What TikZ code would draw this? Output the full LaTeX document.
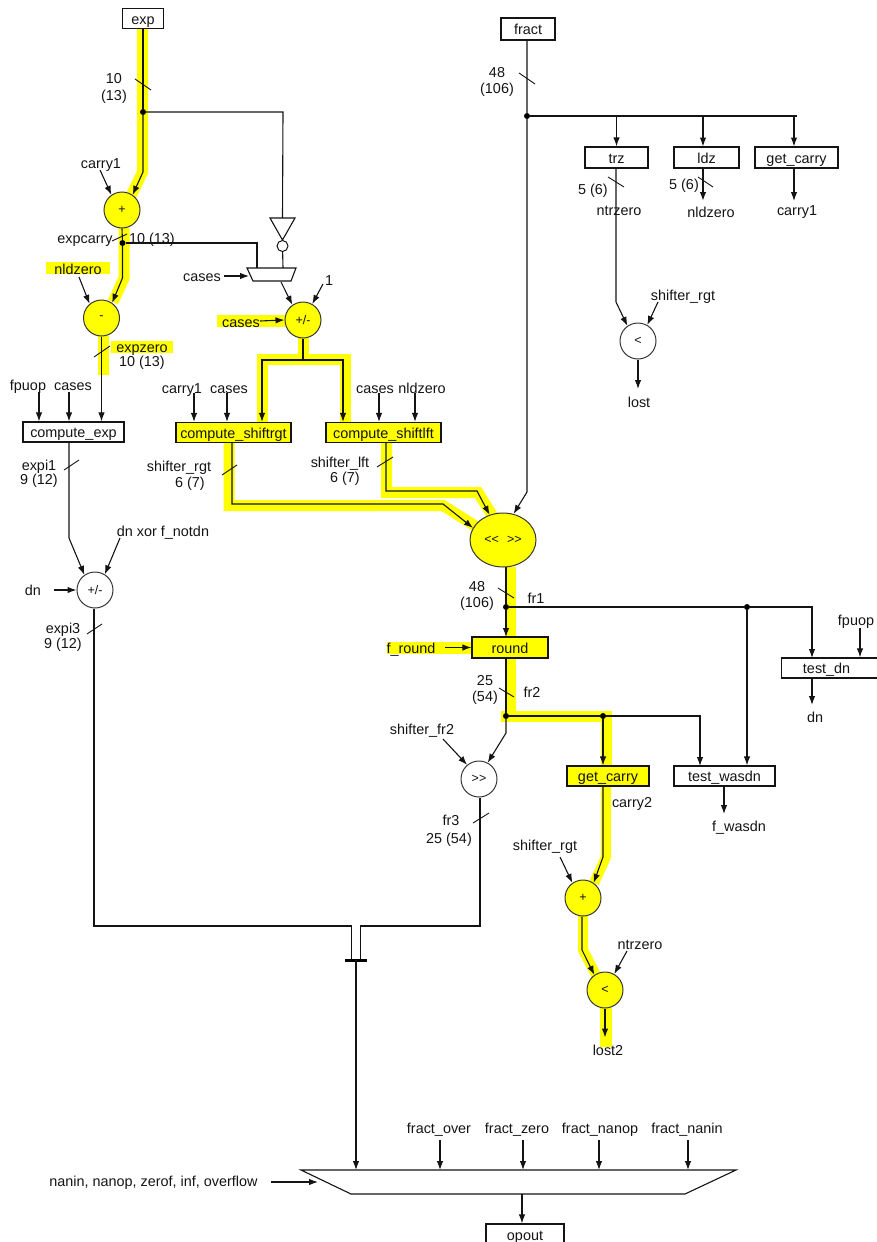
\documentclass[tikz,border=0pt]{standalone}
\usepackage{fontspec}
\setmainfont{Liberation Sans}
\usetikzlibrary{arrows.meta,shapes.geometric,calc}
\definecolor{hly}{RGB}{255,255,0}
\definecolor{ink}{RGB}{20,20,20}
\tikzset{
  wire/.style={draw=ink,line width=1.1pt,line join=miter},
  arr/.style={wire,-{Latex[length=9pt,width=6.5pt]}},
  hl/.style={draw=hly,line width=11pt,line cap=butt,line join=miter},
  hlr/.style={fill=hly,draw=none},
  tickm/.style={draw=ink,line width=0.9pt},
  lbl/.style={inner sep=0pt,text=ink,text height=14pt,text depth=2.8pt,font=\fontsize{14.4}{16}\selectfont},
  boxn/.style={draw=ink,line width=1.2pt,rectangle,inner sep=0pt,fill=white,text=ink,text height=14pt,text depth=2.8pt,minimum height=20pt,font=\fontsize{14.4}{15}\selectfont},
  yboxn/.style={boxn,fill=hly},
  opn/.style={draw=ink!85,line width=1pt,circle,inner sep=0pt,minimum size=36pt,fill=white,text=ink,font=\fontsize{12.5}{13}\selectfont},
  yopn/.style={opn,fill=hly},
  dotn/.style={circle,fill=black,inner sep=0pt,minimum size=6pt},
}
\begin{document}
\begin{tikzpicture}[x=1pt,y=-1pt]
\useasboundingbox (0,0) rectangle (876,1242);
% ---------- yellow highlight ----------
\draw[hl] (142.5,28) -- (142.5,172) -- (131,196);
\draw[hl] (124,228) -- (124,278) -- (113,302);
\draw[hl] (103.5,336) -- (103.5,375);
\draw[hl] (303.5,338) -- (303.5,360);
\draw[hl] (262.5,422) -- (262.5,359.5) -- (345,359.5) -- (345,422);
\draw[hl] (229,443) -- (229,505.5) -- (443,505.5) -- (477,527);
\draw[hl] (386.5,443) -- (386.5,492.5) -- (478,492.5) -- (494,518);
\draw[hl] (510,567) -- (510,722);
\draw[hl] (501,716.5) -- (606.5,716.5) -- (606.5,766);
\draw[hl,line width=10pt] (606,786) -- (606,857) -- (594,883);
\draw[hl,line width=10pt] (583,916) -- (583,950) -- (596,975);
\draw[hl,line width=12pt] (606,1008) -- (606,1047);
\fill[hlr] (46,262) rectangle (110,274);
\fill[hlr] (111,341) rectangle (173,353);
\fill[hlr] (217,315) rectangle (285,327);
\fill[hlr] (387,642) rectangle (472,654);
% ---------- boxes ----------
\node[boxn,minimum width=41pt] (exp) at (143,18.5) {exp};
\node[boxn,minimum width=54pt,minimum height=22pt] (fract) at (528,29) {fract};
\node[boxn,minimum width=63pt,minimum height=21pt] (trz) at (616.5,157.5) {trz};
\node[boxn,minimum width=65pt,minimum height=21pt] (ldz) at (706.5,157.5) {ldz};
\node[boxn,minimum width=83pt,minimum height=21pt] (gc1) at (796.5,157.5) {get\_carry};
\node[boxn,minimum width=101pt] (cexp) at (73.5,432) {compute\_exp};
\node[yboxn,minimum width=115pt] (crgt) at (233.5,432.5) {compute\_shiftrgt};
\node[yboxn,minimum width=115pt] (clft) at (383.5,432.5) {compute\_shiftlft};
\node[yboxn,minimum width=76pt,minimum height=21pt] (round) at (510,647.5) {round};
\node[boxn,minimum width=98pt,anchor=west] (tdn) at (781,668) {\hspace*{-8pt}test\_dn};
\node[yboxn,minimum width=82pt] (gc2) at (608,776) {get\_carry};
\node[boxn,minimum width=101pt] (twas) at (724.5,776) {test\_wasdn};
\node[boxn,minimum width=78pt,minimum height=22pt] (opout) at (525,1235) {opout};
% ---------- operators ----------
\node[yopn] (plus1) at (122,210) {+};
\node[yopn] (minus1) at (101.5,318) {-};
\node[yopn] (pm1) at (303,320) {+/-};
\node[opn] (lt1) at (638,341) {<};
\node[opn] (pm2) at (95,590) {+/-};
\node[yopn,ellipse,minimum width=66pt,minimum height=54pt] (shift) at (503,540) {<{}<\hspace{8pt}>{}>};
\node[opn] (sr) at (479,779) {>{}>};
\node[yopn] (plus2) at (583,898) {+};
\node[yopn] (lt2) at (605,990) {<};
% ---------- multiplexers and inverter ----------
\draw[wire] (247,268) -- (296,268) -- (291,281) -- (253,281) -- cycle;
\coordinate (muxaL) at (257,268);
\coordinate (muxaR) at (283,268);
\coordinate (muxaS) at (249,276);
\coordinate (muxaO) at (281,282);
\draw[wire] (270,218) -- (295,218) -- (282.5,240) -- cycle;
\coordinate (invin) at (282.5,218);
\node[draw=ink,line width=1pt,circle,inner sep=0pt,minimum size=11pt,fill=white] (bub) at (282.5,246) {};
\draw[wire] (301,1170) -- (736,1170) -- (685,1194) -- (351,1194) -- cycle;
\coordinate (muxbO) at (522,1194);
\coordinate (muxbS) at (318,1182);
% ---------- junctions ----------
\node[dotn] (j1) at (143,112) {};
\node[dotn] (j2) at (122.5,243) {};
\node[dotn] (j3) at (527,116) {};
\node[dotn] (j4) at (506,607) {};
\node[dotn] (j5) at (747,607) {};
\node[dotn] (j6) at (506,716) {};
\node[dotn] (j7) at (603,716) {};
% ---------- labels ----------
\node[lbl] (l10a) at (114,78) {10};
\node[lbl] (l13a) at (114,95) {(13)};
\node[lbl] (lc1) at (101,163) {carry1};
\node[lbl] (lexpc) at (85,238) {expcarry};
\node[lbl] (l10b) at (152,238) {10 (13)};
\node[lbl] (lnld) at (78,269) {nldzero};
\node[lbl] (lcs1) at (202,276) {cases};
\node[lbl] (l1) at (329,280) {1};
\node[lbl] (lcs2) at (241,322) {cases};
\node[lbl] (lexpz) at (142,347) {expzero};
\node[lbl] (l10c) at (142,361) {10 (13)};
\node[lbl] (lfp) at (28,385) {fpuop};
\node[lbl] (lcs3) at (73,385) {cases};
\node[lbl] (lc2) at (182,388) {carry1};
\node[lbl] (lcs4) at (229,388) {cases};
\node[lbl] (lcs5) at (375,388) {cases};
\node[lbl] (lnld2) at (422,388) {nldzero};
\node[lbl] (lsr) at (179,466) {shifter\_rgt};
\node[lbl] (l67a) at (190,482) {6 (7)};
\node[lbl] (lsl) at (340,462) {shifter\_lft};
\node[lbl] (l67b) at (345,477) {6 (7)};
\node[lbl] (lexpi1) at (39,465) {expi1};
\node[lbl] (l912a) at (39,479) {9 (12)};
\node[lbl] (lxor) at (163,531) {dn xor f\_notdn};
\node[lbl] (ldn) at (33,590) {dn};
\node[lbl] (lexpi3) at (63,628) {expi3};
\node[lbl] (l912b) at (63,643) {9 (12)};
\node[lbl] (l48a) at (497,72) {48};
\node[lbl] (l106a) at (497,88) {(106)};
\node[lbl] (l56a) at (593,189) {5 (6)};
\node[lbl] (l56b) at (684,184) {5 (6)};
\node[lbl] (lntr) at (619,210) {ntrzero};
\node[lbl] (lnld3) at (711,212) {nldzero};
\node[lbl] (lc3) at (797,210) {carry1};
\node[lbl] (lsr2) at (683,295) {shifter\_rgt};
\node[lbl] (llost) at (639,402) {lost};
\node[lbl] (l48b) at (477,586) {48};
\node[lbl] (l106b) at (477,602) {(106)};
\node[lbl] (lfr1) at (536,598) {fr1};
\node[lbl] (lfround) at (411,648) {f\_round};
\node[lbl] (lfp2) at (856,620) {fpuop};
\node[lbl] (l25) at (485,680) {25};
\node[lbl] (l54) at (485,696) {(54)};
\node[lbl] (lfr2) at (532,692) {fr2};
\node[lbl] (ldn2) at (815,717) {dn};
\node[lbl] (lsf2) at (422,729) {shifter\_fr2};
\node[lbl] (lcr2) at (632,802) {carry2};
\node[lbl] (lfw) at (739,826) {f\_wasdn};
\node[lbl] (lfr3) at (451,820) {fr3};
\node[lbl] (l2554) at (449,838) {25 (54)};
\node[lbl] (lsr3) at (545,845) {shifter\_rgt};
\node[lbl] (lntr2) at (640,944) {ntrzero};
\node[lbl] (llost2) at (608,1050) {lost2};
\node[lbl] (lfo) at (439,1128) {fract\_over};
\node[lbl] (lfz) at (517,1128) {fract\_zero};
\node[lbl] (lfn) at (600,1128) {fract\_nanop};
\node[lbl] (lfi) at (687,1128) {fract\_nanin};
\node[lbl] (lnan) at (153.5,1181) {nanin, nanop, zerof, inf, overflow};
% ---------- free ends and bends ----------
\coordinate (b1) at (143,172);
\coordinate (b2) at (122.5,278);
\coordinate (b3) at (527,492);
\coordinate (b4) at (232,504);
\coordinate (b5) at (443,504);
\coordinate (b6) at (386,491);
\coordinate (b7) at (477,491);
\coordinate (b8) at (303,360);
\coordinate (b9) at (262,360);
\coordinate (b10) at (343,360);
\coordinate (b11) at (283,112);
\coordinate (b12) at (257,243);
\coordinate (b13) at (616,302);
\coordinate (b14) at (506,733);
\coordinate (b15) at (603,857);
\coordinate (b16) at (582,950);
\coordinate (b17) at (69,538);
\coordinate (b18) at (94,926);
\coordinate (b19) at (480,926);
\coordinate (b20) at (351.5,926);
\coordinate (b21) at (360.5,926);
\coordinate (bar) at (356,960);
\coordinate (fc1) at (100,170);
\coordinate (fnld) at (79,277);
\coordinate (fcs1) at (224,276);
\coordinate (fone) at (323,284);
\coordinate (fcs2) at (260,321);
\coordinate (ffp) at (39,392);
\coordinate (fcs3) at (69,392);
\coordinate (fc2) at (194,393);
\coordinate (fcs4) at (227,393);
\coordinate (fcs5) at (379,393);
\coordinate (fnld2) at (415,393);
\coordinate (fxor) at (120,538);
\coordinate (fdn) at (54,590);
\coordinate (fsr2) at (658,302);
\coordinate (ffr) at (445,647.5);
\coordinate (ffp2) at (860,628);
\coordinate (fsf2) at (443,739);
\coordinate (fsr3) at (560,857);
\coordinate (fntr2) at (627,951);
\coordinate (ffo) at (440,1140);
\coordinate (ffz) at (523,1140);
\coordinate (ffn) at (599,1140);
\coordinate (ffi) at (688,1140);
\coordinate (fnan) at (271,1182);
% ---------- connectors ----------
\draw[wire] (exp.south) -- (j1);
\draw[arr] (j1) -- (b1) -- (plus1.55);
\draw[arr] (fc1) -- (plus1.125);
\draw[wire] (j1) -- (b11) -- (invin);
\draw[wire] (bub) -- (muxaR);
\draw[wire] (plus1.south) -- (j2);
\draw[arr] (j2) -- (b2) -- (minus1.55);
\draw[wire] (j2) -- (b12) -- (muxaL);
\draw[arr] (fnld) -- (minus1.130);
\draw[arr] (fcs1) -- (muxaS);
\draw[arr] (muxaO) -- (pm1.125);
\draw[arr] (fone) -- (pm1.60);
\draw[arr] (fcs2) -- (pm1.west);
\draw[arr] (minus1.south) -- (minus1.south |- cexp.north);
\draw[arr] (ffp) -- (ffp |- cexp.north);
\draw[arr] (fcs3) -- (fcs3 |- cexp.north);
\draw[wire] (pm1.south) -- (b8);
\draw[arr] (b8) -- (b9) -- (b9 |- crgt.north);
\draw[arr] (b8) -- (b10) -- (b10 |- clft.north);
\draw[arr] (fc2) -- (fc2 |- crgt.north);
\draw[arr] (fcs4) -- (fcs4 |- crgt.north);
\draw[arr] (fcs5) -- (fcs5 |- clft.north);
\draw[arr] (fnld2) -- (fnld2 |- clft.north);
\draw[arr] (b4 |- crgt.south) -- (b4) -- (b5) -- (shift.158);
\draw[arr] (b6 |- clft.south) -- (b6) -- (b7) -- (shift.118);
\draw[arr] (fract.south -| j3) -- (j3) -- (b3) -- (shift.68);
\draw[wire] (j3) -- (j3 -| gc1.north);
\draw[arr] (trz.north |- j3) -- (trz.north);
\draw[arr] (703,116) -- (703,146.5);
\draw[arr] (794,116) -- (794,146.5);
\draw[arr] (b13 |- trz.south) -- (b13) -- (lt1.125);
\draw[arr] (fsr2) -- (lt1.60);
\draw[arr] (lt1.south) -- ++(0,29.5);
\draw[arr,line width=1.5pt] (703,168) -- (703,201);
\draw[arr] (794,168) -- (794,201);
\draw[arr] (cexp.south -| b17) -- (b17) -- (pm2.125);
\draw[arr] (fxor) -- (pm2.58);
\draw[arr] (fdn) -- (pm2.west);
\draw[wire] (pm2.south -| b18) -- (b18) -- (b20) -- (b20 |- bar);
\draw[wire] (sr.south -| b19) -- (b19) -- (b21) -- (b21 |- bar);
\draw[line width=3pt,draw=black] ([xshift=-11pt]bar) -- ([xshift=11pt]bar);
\draw[arr] (bar) -- (bar |- 0,1170);
\draw[wire] (506,567) -- (j4);
\draw[arr] (j4) -- (506,637);
\draw[wire] (j4) -- (j5);
\draw[arr] (j5) -- (812,607) -- (812,658);
\draw[arr] (j5) -- (j5 |- twas.north);
\draw[arr] (ffp2) -- (ffp2 |- tdn.north);
\draw[arr] (812,678) -- (812,705);
\draw[arr] (ffr) -- (round.west);
\draw[wire] (506,658) -- (j6);
\draw[wire] (j6) -- (j7);
\draw[arr] (j7) -- (j7 |- gc2.north);
\draw[arr] (j7) -- (700,716) -- (700,766);
\draw[arr] (j6) -- (b14) -- (sr.62);
\draw[arr] (fsf2) -- (sr.130);
\draw[arr] (724,786) -- (724,814);
\draw[arr] (b15 |- gc2.south) -- (b15) -- (plus2.55);
\draw[arr] (fsr3) -- (plus2.125);
\draw[arr] (plus2.south -| b16) -- (b16) -- (lt2.125);
\draw[arr] (fntr2) -- (lt2.60);
\draw[arr] (lt2.south) -- ++(0,29);
\draw[arr] (ffo) -- (ffo |- 0,1170);
\draw[arr] (ffz) -- (ffz |- 0,1170);
\draw[arr] (ffn) -- (ffn |- 0,1170);
\draw[arr] (ffi) -- (ffi |- 0,1170);
\draw[arr] (fnan) -- (muxbS);
\draw[arr] (muxbO) -- (opout.north -| muxbO);
% ---------- bus width ticks ----------
\draw[tickm] (135,79) -- (151,90);
\draw[tickm] (112,241) -- (127,234);
\draw[tickm] (94,357) -- (110,346);
\draw[tickm] (222,475) -- (237,465);
\draw[tickm] (377,467) -- (393,457);
\draw[tickm] (64,470) -- (79,460);
\draw[tickm] (87,634) -- (102,624);
\draw[tickm] (519,73) -- (535,84);
\draw[tickm] (608,177) -- (624,187);
\draw[tickm] (698,177) -- (713,187);
\draw[tickm] (498,588) -- (514,598);
\draw[tickm] (499,688) -- (514,697);
\draw[tickm] (473,823) -- (489,813);
\end{tikzpicture}
\end{document}
